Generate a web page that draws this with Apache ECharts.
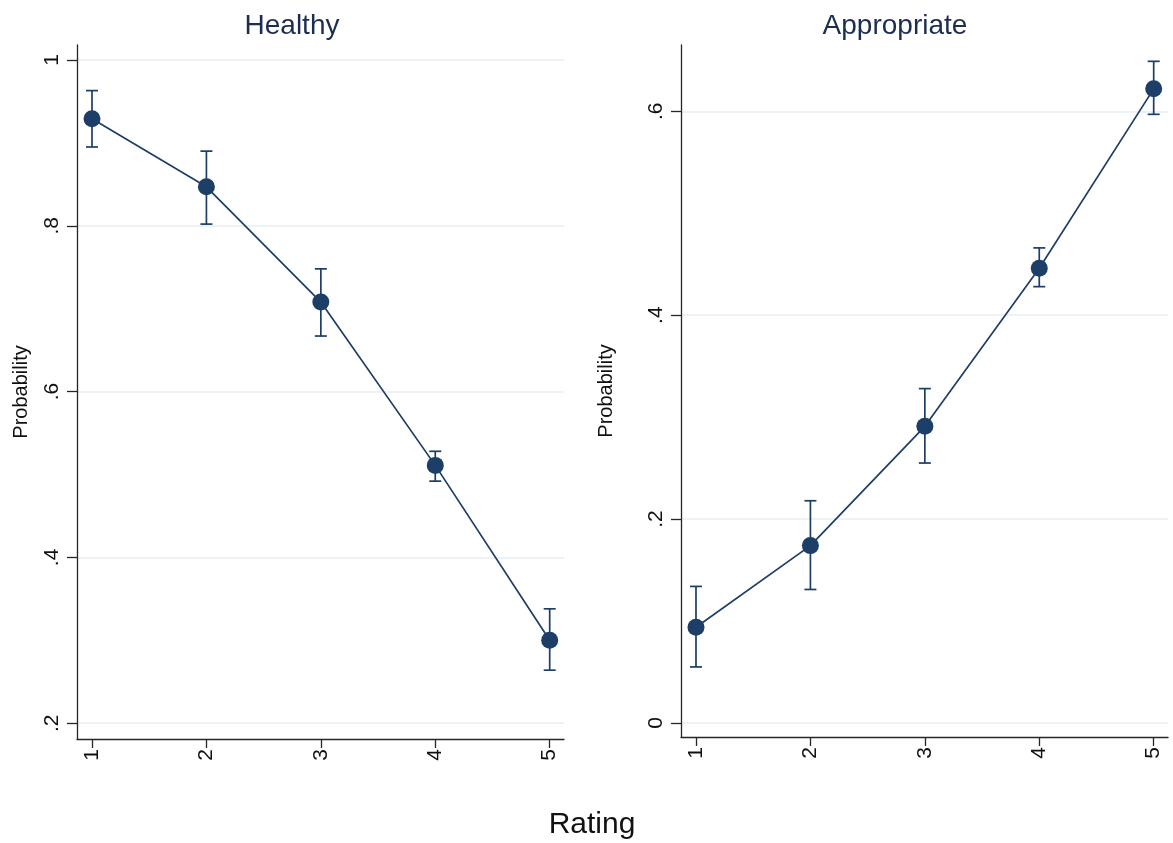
<!DOCTYPE html>
<html>
<head>
<meta charset="utf-8">
<title>Predicted probability by rating</title>
<script src="https://cdn.jsdelivr.net/npm/echarts@6/dist/echarts.min.js"></script>
<style>
  html, body { margin: 0; padding: 0; background: #fff; }
  #chart { width: 1173px; height: 843px; }
</style>
</head>
<body>
<div id="chart"></div>
<script>
// Rating categories (x) and predicted probabilities with 95% CIs
const ratings = [1, 2, 3, 4, 5];

const healthyProb = [0.929, 0.847, 0.708, 0.511, 0.300];
const healthyLo   = [0.895, 0.802, 0.667, 0.492, 0.264];
const healthyHi   = [0.963, 0.890, 0.748, 0.528, 0.338];

const appropProb = [0.094, 0.174, 0.291, 0.446, 0.622];
const appropLo   = [0.055, 0.131, 0.255, 0.428, 0.597];
const appropHi   = [0.134, 0.218, 0.328, 0.466, 0.649];

const healthyTicks = [0.2, 0.4, 0.6, 0.8, 1];
const appropTicks  = [0, 0.2, 0.4, 0.6];

const NAVY = '#1d3e66';
const AXIS = '#262626';
const GRID = '#e7eff2';
const FONT = '"Liberation Sans", Arial, Helvetica, sans-serif';

// Stata-style labels: drop the leading zero (".2", ".4", ...)
const stataFmt = v => {
  const s = String(Math.round(v * 10) / 10);
  return s.startsWith('0.') ? s.slice(1) : s;
};

function pointsOf(ys) { return ratings.map((x, i) => [x, ys[i]]); }
function barsOf(lo, hi) { return ratings.map((x, i) => [x, lo[i], hi[i]]); }

// Vertical CI bar with horizontal caps, positioned via the axis scales
function renderCI(params, api) {
  const x = api.value(0);
  const top = api.coord([x, api.value(2)]);
  const bot = api.coord([x, api.value(1)]);
  const w = 6;
  const st = { stroke: NAVY, lineWidth: 1.7 };
  return {
    type: 'group',
    children: [
      { type: 'line', shape: { x1: top[0], y1: top[1], x2: bot[0], y2: bot[1] }, style: st },
      { type: 'line', shape: { x1: top[0] - w, y1: top[1], x2: top[0] + w, y2: top[1] }, style: st },
      { type: 'line', shape: { x1: bot[0] - w, y1: bot[1], x2: bot[0] + w, y2: bot[1] }, style: st }
    ]
  };
}

function xAxisFor(gridIndex) {
  return {
    type: 'value',
    gridIndex,
    min: 0.869,
    max: 5.125,
    splitLine: { show: false },
    axisLine: { show: true, onZero: false, lineStyle: { color: AXIS, width: 1.3 } },
    axisTick: { show: true, length: 9, customValues: ratings, lineStyle: { color: AXIS, width: 1.3 } },
    axisLabel: {
      customValues: ratings,
      rotate: 90,
      margin: 10,
      color: '#111',
      fontFamily: FONT,
      fontSize: 21,
      formatter: v => String(v)
    }
  };
}

function yAxisFor(gridIndex, min, max, ticks, nameGap) {
  return {
    type: 'value',
    gridIndex,
    min,
    max,
    name: 'Probability',
    nameLocation: 'middle',
    nameRotate: 90,
    nameGap,
    nameTextStyle: { color: '#111', fontFamily: FONT, fontSize: 20 },
    axisLine: { show: true, onZero: false, lineStyle: { color: AXIS, width: 1.3 } },
    axisTick: { show: true, length: 10, customValues: ticks, lineStyle: { color: AXIS, width: 1.3 } },
    axisLabel: {
      customValues: ticks,
      rotate: 90,
      margin: 14,
      color: '#111',
      fontFamily: FONT,
      fontSize: 21,
      formatter: stataFmt
    },
    splitLine: { show: true, lineStyle: { color: GRID, width: 1.5 } }
  };
}

const chart = echarts.init(document.getElementById('chart'), null, { renderer: 'canvas' });

chart.setOption({
  backgroundColor: '#ffffff',
  animation: false,
  title: [
    { text: 'Healthy', left: 287, top: 7, textAlign: 'center',
      textStyle: { color: '#1c2d50', fontFamily: FONT, fontSize: 28, fontWeight: 'normal' } },
    { text: 'Appropriate', left: 890, top: 7, textAlign: 'center',
      textStyle: { color: '#1c2d50', fontFamily: FONT, fontSize: 28, fontWeight: 'normal' } },
    { text: 'Rating', left: 587, top: 805, textAlign: 'center',
      textStyle: { color: '#111', fontFamily: FONT, fontSize: 30, fontWeight: 'normal' } }
  ],
  grid: [
    { left: 77, top: 45, width: 487, height: 694 },
    { left: 681, top: 45, width: 487, height: 692 }
  ],
  xAxis: [xAxisFor(0), xAxisFor(1)],
  yAxis: [
    yAxisFor(0, 0.181, 1.018, healthyTicks, 46),
    yAxisFor(1, -0.0137, 0.665, appropTicks, 65)
  ],
  series: [
    { type: 'custom', name: 'Healthy CI', xAxisIndex: 0, yAxisIndex: 0, z: 2,
      renderItem: renderCI, data: barsOf(healthyLo, healthyHi) },
    { type: 'line', name: 'Healthy', xAxisIndex: 0, yAxisIndex: 0, z: 3,
      data: pointsOf(healthyProb), symbol: 'circle', symbolSize: 17,
      lineStyle: { color: NAVY, width: 1.7 }, itemStyle: { color: NAVY } },
    { type: 'custom', name: 'Appropriate CI', xAxisIndex: 1, yAxisIndex: 1, z: 2,
      renderItem: renderCI, data: barsOf(appropLo, appropHi) },
    { type: 'line', name: 'Appropriate', xAxisIndex: 1, yAxisIndex: 1, z: 3,
      data: pointsOf(appropProb), symbol: 'circle', symbolSize: 17,
      lineStyle: { color: NAVY, width: 1.7 }, itemStyle: { color: NAVY } }
  ]
});
</script>
</body>
</html>
